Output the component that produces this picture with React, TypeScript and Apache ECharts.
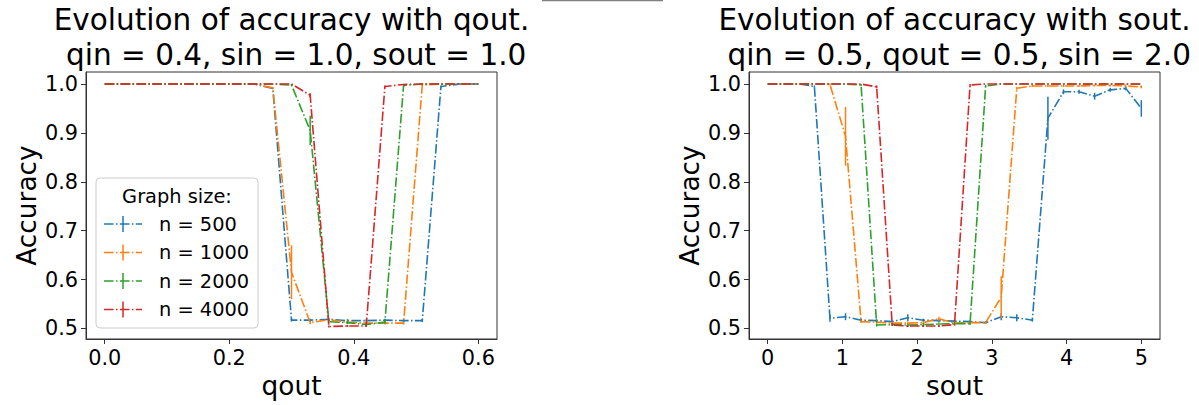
import React, { useEffect, useRef } from "react";
import * as echarts from "echarts";

// ---------- data ----------
const QOUT = [0, 0.03, 0.06, 0.09, 0.12, 0.15, 0.18, 0.21, 0.24, 0.27, 0.3, 0.33, 0.36, 0.39, 0.42, 0.45, 0.48, 0.51, 0.54, 0.57, 0.6];
const SOUT = [0, 0.2083, 0.4167, 0.625, 0.8333, 1.0417, 1.25, 1.4583, 1.6667, 1.875, 2.0833, 2.2917, 2.5, 2.7083, 2.9167, 3.125, 3.3333, 3.5417, 3.75, 3.9583, 4.1667, 4.375, 4.5833, 4.7917, 5];

const SERIES_NAMES = ["n = 500", "n = 1000", "n = 2000", "n = 4000"];
const COLORS = ["#1f77b4", "#ff7f0e", "#2ca02c", "#d62728"];

// left panel (accuracy vs qout)
const Q_N500 = [1, 1, 1, 1, 1, 1, 1, 1, 1, 0.991, 0.517, 0.517, 0.519, 0.516, 0.516, 0.517, 0.516, 0.516, 0.995, 1, 1];
const Q_N1000 = [1, 1, 1, 1, 1, 1, 1, 1, 1, 0.992, 0.615, 0.512, 0.518, 0.513, 0.511, 0.511, 0.511, 0.998, 1, 1, 1];
const Q_N2000 = [1, 1, 1, 1, 1, 1, 1, 1, 1, 1, 0.998, 0.905, 0.514, 0.512, 0.508, 0.513, 0.997, 1, 1, 1, 1];
const Q_N4000 = [1, 1, 1, 1, 1, 1, 1, 1, 1, 1, 1, 0.977, 0.504, 0.505, 0.505, 0.995, 0.999, 1, 1, 1, 1];
const Q_N500_ERR = [0, 0, 0, 0, 0, 0, 0, 0, 0, 0.002, 0.003, 0.003, 0.003, 0.003, 0.003, 0.003, 0.003, 0.003, 0.002, 0, 0];
const Q_N1000_ERR = [0, 0, 0, 0, 0, 0, 0, 0, 0, 0.002, 0.055, 0.003, 0.003, 0.003, 0.003, 0.003, 0.003, 0.002, 0, 0, 0];
const Q_N2000_ERR = [0, 0, 0, 0, 0, 0, 0, 0, 0, 0, 0.002, 0.03, 0.003, 0.003, 0.003, 0.003, 0.002, 0, 0, 0, 0];
const Q_N4000_ERR = [0, 0, 0, 0, 0, 0, 0, 0, 0, 0, 0, 0.004, 0.002, 0.002, 0.002, 0.002, 0, 0, 0, 0, 0];

// right panel (accuracy vs sout)
const S_N500 = [1, 1, 1, 0.995, 0.521, 0.524, 0.517, 0.516, 0.514, 0.522, 0.517, 0.516, 0.515, 0.514, 0.512, 0.524, 0.522, 0.517, 0.93, 0.984, 0.984, 0.975, 0.988, 0.991, 0.95];
const S_N1000 = [1, 1, 1, 1, 0.999, 0.893, 0.514, 0.513, 0.511, 0.511, 0.512, 0.52, 0.511, 0.512, 0.512, 0.564, 0.991, 0.996, 0.996, 0.996, 0.996, 0.997, 0.997, 0.996, 0.994];
const S_N2000 = [1, 1, 1, 1, 1, 1, 0.998, 0.507, 0.508, 0.507, 0.508, 0.509, 0.51, 0.51, 0.996, 1, 1, 1, 1, 1, 1, 1, 1, 1, 1];
const S_N4000 = [1, 1, 1, 1, 1, 1, 1, 0.994, 0.507, 0.505, 0.505, 0.505, 0.508, 0.998, 1, 1, 1, 1, 1, 1, 1, 1, 1, 1, 1];
const S_N500_ERR = [0, 0, 0, 0.002, 0.007, 0.007, 0.003, 0.003, 0.003, 0.007, 0.003, 0.003, 0.003, 0.003, 0.003, 0.007, 0.007, 0.003, 0.044, 0.005, 0.004, 0.007, 0.004, 0.004, 0.017];
const S_N1000_ERR = [0, 0, 0, 0, 0.002, 0.06, 0.003, 0.003, 0.003, 0.003, 0.003, 0.004, 0.003, 0.003, 0.003, 0.043, 0.003, 0.002, 0.002, 0.002, 0.002, 0.002, 0.002, 0.003, 0.003];
const S_N2000_ERR = [0, 0, 0, 0, 0, 0, 0.002, 0.003, 0.003, 0.003, 0.003, 0.003, 0.003, 0.003, 0.002, 0, 0, 0, 0, 0, 0, 0, 0, 0, 0];
const S_N4000_ERR = [0, 0, 0, 0, 0, 0, 0, 0.003, 0.002, 0.002, 0.002, 0.002, 0.002, 0.002, 0, 0, 0, 0, 0, 0, 0, 0, 0, 0, 0];

const Y_TICKS = [0.5, 0.6, 0.7, 0.8, 0.9, 1.0];
const QOUT_TICKS = [0, 0.2, 0.4, 0.6];
const SOUT_TICKS = [0, 1, 2, 3, 4, 5];

const LEFT_TITLE = ["Evolution of accuracy with qout.", "qin = 0.4, sin = 1.0, sout = 1.0"];
const RIGHT_TITLE = ["Evolution of accuracy with sout.", "qin = 0.5, qout = 0.5, sin = 2.0"];
const LEGEND_TITLE = "Graph size:";

// ---------- styling ----------
const FONT = "DejaVu Sans";
const DASHDOT = [9.6, 2.4, 1.5, 2.4];
const SPINE = "#333333";
const TITLE_SIZE = 29.5;
const LABEL_SIZE = 26.4;
const TICK_SIZE = 20.8;
const LEGEND_SIZE = 19.4;

function App() {
  const ref = useRef<HTMLDivElement>(null);

  useEffect(() => {
    if (!ref.current) return;
    const chart = echarts.init(ref.current, undefined, { renderer: "svg" });

    const grids = [
      { left: 86, top: 72, width: 411, height: 267 },
      { left: 749, top: 72, width: 411, height: 267 },
    ];

    const makeX = (gi: number, min: number, max: number, ticks: number[], fmt: (v: number) => string, name: string) => ({
      type: "value",
      gridIndex: gi,
      min,
      max,
      name,
      nameLocation: "middle",
      nameGap: 30,
      nameTextStyle: { fontFamily: FONT, fontSize: LABEL_SIZE, color: "#000" },
      splitLine: { show: false },
      axisLine: { show: true, onZero: false, lineStyle: { color: SPINE, width: 1 } },
      axisTick: { show: true, length: 5, customValues: ticks, lineStyle: { color: SPINE, width: 1 } },
      axisLabel: { customValues: ticks, formatter: fmt, fontFamily: FONT, fontSize: TICK_SIZE, color: "#000", margin: 8 },
    });
    const makeY = (gi: number) => ({
      type: "value",
      gridIndex: gi,
      min: 0.4785,
      max: 1.0245,
      name: "Accuracy",
      nameLocation: "middle",
      nameGap: 47,
      nameTextStyle: { fontFamily: FONT, fontSize: LABEL_SIZE, color: "#000" },
      splitLine: { show: false },
      axisLine: { show: true, onZero: false, lineStyle: { color: SPINE, width: 1 } },
      axisTick: { show: true, length: 5, customValues: Y_TICKS, lineStyle: { color: SPINE, width: 1 } },
      axisLabel: { customValues: Y_TICKS, formatter: (v: number) => v.toFixed(1), fontFamily: FONT, fontSize: TICK_SIZE, color: "#000", margin: 8 },
    });

    const panels = [
      { xs: QOUT, ys: [Q_N500, Q_N1000, Q_N2000, Q_N4000], errs: [Q_N500_ERR, Q_N1000_ERR, Q_N2000_ERR, Q_N4000_ERR] },
      { xs: SOUT, ys: [S_N500, S_N1000, S_N2000, S_N4000], errs: [S_N500_ERR, S_N1000_ERR, S_N2000_ERR, S_N4000_ERR] },
    ];

    const series: any[] = [];
    panels.forEach((p, gi) => {
      p.ys.forEach((ys, si) => {
        const color = COLORS[si];
        series.push({
          type: "line",
          name: SERIES_NAMES[si],
          xAxisIndex: gi,
          yAxisIndex: gi,
          data: p.xs.map((x, i) => [x, ys[i]]),
          showSymbol: false,
          symbol: "none",
          z: 2 + si * 2,
          lineStyle: { color, width: 1.6, type: DASHDOT },
        });
        series.push({
          type: "custom",
          name: SERIES_NAMES[si] + " err",
          xAxisIndex: gi,
          yAxisIndex: gi,
          z: 3 + si * 2,
          encode: { x: 0, y: 1 },
          data: p.xs.map((x, i) => [x, ys[i], p.errs[si][i]]).filter((d) => d[2] > 0),
          renderItem: (_params: any, api: any) => {
            const x = api.value(0);
            const y = api.value(1);
            const e = api.value(2);
            const a = api.coord([x, y - e]);
            const b = api.coord([x, y + e]);
            return {
              type: "line",
              shape: { x1: a[0], y1: a[1], x2: b[0], y2: b[1] },
              style: { stroke: color, lineWidth: 1.5 },
            };
          },
        });
      });
    });

    const graphics: any[] = [];

    // titles: two centred lines above each panel
    const spaceShift = TITLE_SIZE * 0.16; // original second line begins with a space
    [LEFT_TITLE, RIGHT_TITLE].forEach((lines, gi) => {
      const g = grids[gi];
      const cx = g.left + g.width / 2;
      graphics.push(
        { type: "text", z: 50, style: { text: lines[0], x: cx, y: 20, align: "center", verticalAlign: "middle", fontFamily: FONT, fontSize: TITLE_SIZE, lineHeight: TITLE_SIZE, fill: "#000" } },
        { type: "text", z: 50, style: { text: lines[1], x: cx + spaceShift, y: 55, align: "center", verticalAlign: "middle", fontFamily: FONT, fontSize: TITLE_SIZE, lineHeight: TITLE_SIZE, fill: "#000" } }
      );
    });

    // legend drawn as graphic (errorbar-style handles)
    graphics.push(
      {
        type: "rect",
        shape: { x: 96, y: 178, width: 162, height: 150, r: 4 },
        style: { fill: "rgba(255,255,255,0.8)", stroke: "#cccccc", lineWidth: 1 },
        z: 100,
      },
      {
        type: "text",
        z: 101,
        style: { text: LEGEND_TITLE, x: 177, y: 196, align: "center", verticalAlign: "middle", fontFamily: FONT, fontSize: LEGEND_SIZE, fill: "#000" },
      }
    );
    SERIES_NAMES.forEach((nm, i) => {
      const cy = 224 + i * 28.5;
      graphics.push(
        { type: "line", z: 101, shape: { x1: 104, y1: cy, x2: 142, y2: cy }, style: { stroke: COLORS[i], lineWidth: 1.5, lineDash: DASHDOT } },
        { type: "line", z: 101, shape: { x1: 123, y1: cy - 8, x2: 123, y2: cy + 8 }, style: { stroke: COLORS[i], lineWidth: 1.5 } },
        { type: "text", z: 101, style: { text: nm, x: 159, y: cy, align: "left", verticalAlign: "middle", fontFamily: FONT, fontSize: LEGEND_SIZE, fill: "#000" } }
      );
    });
    // clipped frame edge visible at the top centre of the figure
    graphics.push({ type: "line", z: 101, shape: { x1: 542, y1: 0, x2: 663, y2: 0 }, style: { stroke: "#808080", lineWidth: 2.5 } });

    chart.setOption({
      animation: false,
      backgroundColor: "#ffffff",
      grid: grids.map((g) => ({ ...g, show: true, borderColor: SPINE, borderWidth: 1, backgroundColor: "transparent", containLabel: false })),
      xAxis: [
        makeX(0, -0.03, 0.63, QOUT_TICKS, (v: number) => v.toFixed(1), "qout"),
        makeX(1, -0.25, 5.25, SOUT_TICKS, (v: number) => String(Math.round(v)), "sout"),
      ],
      yAxis: [makeY(0), makeY(1)],
      series,
      graphic: graphics,
    });

    return () => chart.dispose();
  }, []);

  return <div ref={ref} style={{ position: "fixed", left: 0, top: 0, width: 1199, height: 405 }} />;
}

export default App;
